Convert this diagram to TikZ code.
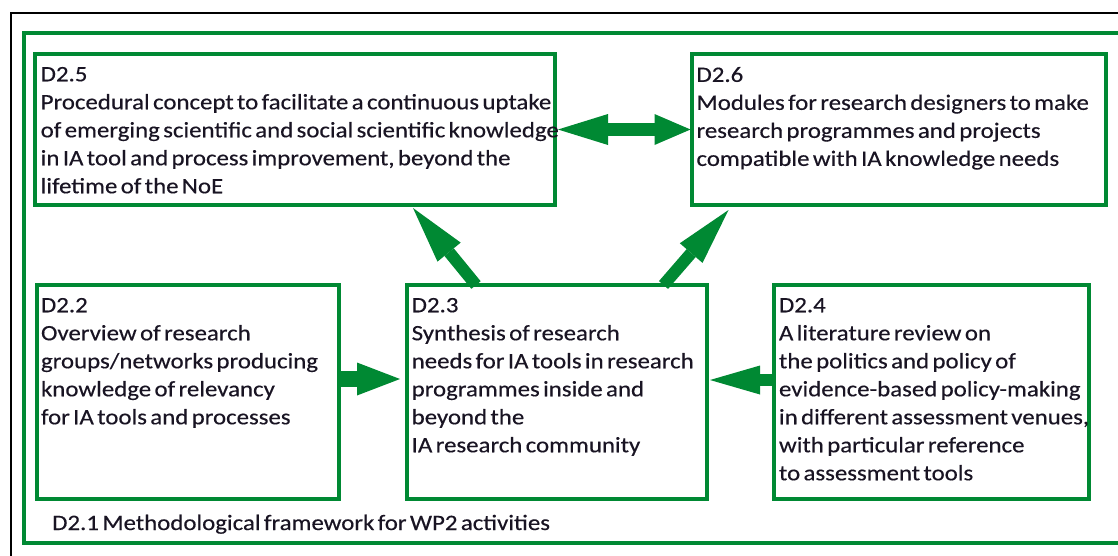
\documentclass[tikz,border=0pt]{standalone}
\usepackage{fontspec}
\setmainfont[FakeStretch=1.13,WordSpace=0.6,FakeBold=0.4]{Carlito}
\usetikzlibrary{arrows.meta,calc}
\definecolor{dgreen}{RGB}{0,137,51}
\definecolor{txt}{RGB}{25,20,35}
\begin{document}
\begin{tikzpicture}[x=1pt,y=-1pt,
  box/.style={draw=dgreen,line width=4pt,rectangle,inner sep=0pt,outer sep=0pt,anchor=north west},
  frame/.style={rectangle,inner sep=0pt,outer sep=0pt,anchor=north west},
  txtbox/.style={anchor=north west,inner sep=0pt,outer sep=0pt,align=left,text=txt,
    font=\fontsize{22}{28}\selectfont},
  lbl/.style={anchor=base west,inner sep=0pt,text=txt,font=\fontsize{22}{28}\selectfont},
  blk/.style={draw=dgreen,line cap=butt}]
\path[use as bounding box] (0,0) rectangle (1118,555);
\clip (0,0) rectangle (1118,555);
% frames
\node[frame,draw=black,line width=1.8pt,minimum width=1140pt,minimum height=570pt] (outer) at (11,13.3) {};
\node[frame,draw=dgreen,line width=4pt,minimum width=1110pt,minimum height=510.5pt] (wp) at (23.5,32.5) {};
% boxes
\node[box,minimum width=520pt,minimum height=151pt] (d25) at (35,54) {};
\node[box,minimum width=414pt,minimum height=151pt] (d26) at (691.5,54) {};
\node[box,minimum width=301.5pt,minimum height=214pt] (d22) at (37,285) {};
\node[box,minimum width=299.5pt,minimum height=214pt] (d23) at (407,285) {};
\node[box,minimum width=315pt,minimum height=214pt] (d24) at (774,285) {};
% texts
\node[txtbox] (t25) at (40.7,67) {D2.5\\Procedural concept to facilitate a continuous uptake\\of emerging scientific and social scientific knowledge\\in IA tool and process improvement, beyond the\\lifetime of the NoE};
\node[txtbox] (t26) at (696.5,67) {D2.6\\Modules for research designers to make\\research programmes and projects\\compatible with IA knowledge needs};
\node[txtbox] (t22) at (41,298) {D2.2\\Overview of research\\groups/networks producing\\knowledge of relevancy\\for IA tools and processes};
\node[txtbox] (t23) at (411.7,298) {D2.3\\Synthesis of research\\needs for IA tools in research\\programmes inside and\\beyond the\\IA research community};
\node[txtbox] (t24) at (779,298) {D2.4\\A literature review on\\the politics and policy of\\evidence-based policy-making\\in different assessment venues,\\with particular reference\\to assessment tools};
\node[lbl] (t21) at (52,530) {D2.1 Methodological framework for WP2 activities};
% arrows
\draw[blk,line width=12pt,-{Triangle[length=57pt,width=30pt,line width=0pt]}]
  ($(d23.north west)+(69,0)$) -- ($(d25.south west)+(378,3)$);
\draw[blk,line width=12pt,-{Triangle[length=57pt,width=30pt,line width=0pt]}]
  ($(d23.north east)+(-43,0)$) -- ($(d26.south west)+(37,5)$);
\draw[blk,line width=13pt,{Triangle[length=50pt,width=31pt,line width=0pt]}-{Triangle[length=36pt,width=31pt,line width=0pt]}]
  ($(d25.east)+(3,0)$) -- ($(d26.west)+(-1,0)$);
\draw[blk,line width=16pt,-{Triangle[length=43pt,width=33pt,line width=0pt]}]
  ($(d22.east)+(0,-13)$) -- ($(d23.west)+(-7,-13)$);
\draw[blk,line width=12pt,-{Triangle[length=50pt,width=29pt,line width=0pt]}]
  ($(d24.west)+(0,-12)$) -- ($(d23.east)+(3.5,-12)$);
\end{tikzpicture}
\end{document}
